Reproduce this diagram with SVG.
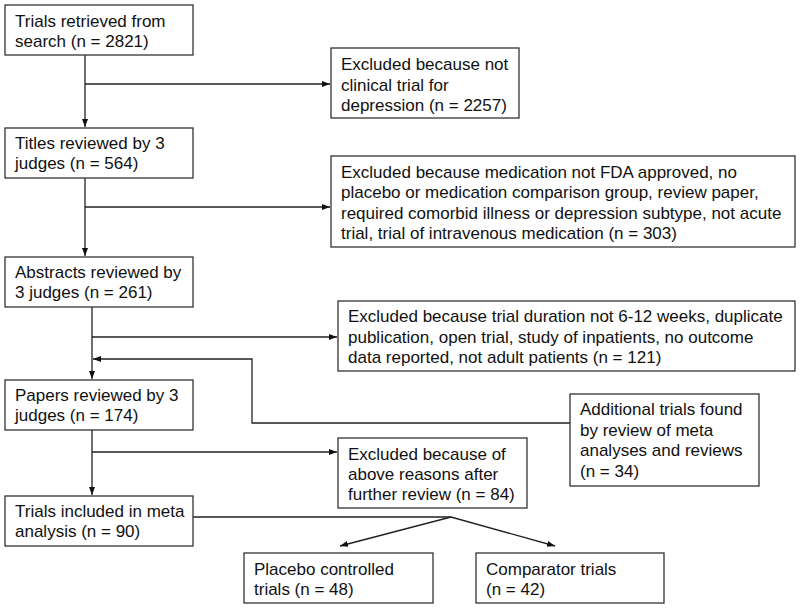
<svg xmlns="http://www.w3.org/2000/svg" width="800" height="609" viewBox="0 0 800 609">
<style>
.box{fill:#fff;stroke:#333;stroke-width:1.3}
.t{font-family:"Liberation Sans",Arial,sans-serif;font-size:17px;fill:#111}
.c{fill:none;stroke:#222;stroke-width:1.3}
</style>
<defs>
<marker id="ah" markerUnits="userSpaceOnUse" markerWidth="9" markerHeight="8" refX="8" refY="3.5" orient="auto">
<path d="M0,0.5 L8,3.5 L0,6.5 z" fill="#111"/>
</marker>
</defs>
<rect width="800" height="609" fill="#fff"/>
<g id="connectors">
<line class="c" x1="85" y1="55" x2="85" y2="127" marker-end="url(#ah)"/>
<line class="c" x1="85" y1="84" x2="330" y2="84" marker-end="url(#ah)"/>
<line class="c" x1="85" y1="178" x2="85" y2="256" marker-end="url(#ah)"/>
<line class="c" x1="85" y1="207" x2="330" y2="207" marker-end="url(#ah)"/>
<line class="c" x1="92" y1="307" x2="92" y2="379" marker-end="url(#ah)"/>
<line class="c" x1="92" y1="337" x2="337" y2="337" marker-end="url(#ah)"/>
<polyline class="c" points="570,423 252,423 252,359 93,359" marker-end="url(#ah)"/>
<line class="c" x1="92" y1="430" x2="92" y2="495" marker-end="url(#ah)"/>
<line class="c" x1="92" y1="452" x2="337" y2="452" marker-end="url(#ah)"/>
<line class="c" x1="193" y1="517" x2="451" y2="517"/>
<line class="c" x1="451" y1="517" x2="340" y2="546" marker-end="url(#ah)"/>
<line class="c" x1="451" y1="517" x2="555" y2="546" marker-end="url(#ah)"/>
</g>
<g id="n1"><rect class="box" x="5" y="5" width="188" height="50"/>
<text class="t" x="15" y="27">Trials retrieved from</text><text class="t" x="15" y="47">search (n = 2821)</text></g>
<g id="n2"><rect class="box" x="331" y="48" width="188" height="70"/>
<text class="t" x="341" y="70">Excluded because not</text><text class="t" x="341" y="90.5">clinical trial for</text><text class="t" x="341" y="111">depression (n = 2257)</text></g>
<g id="n3"><rect class="box" x="5" y="128" width="188" height="50"/>
<text class="t" x="15" y="149">Titles reviewed by 3</text><text class="t" x="15" y="169">judges (n = 564)</text></g>
<g id="n4"><rect class="box" x="331" y="156" width="464" height="91"/>
<text class="t" x="341" y="178">Excluded because medication not FDA approved, no</text>
<text class="t" x="341" y="198.3">placebo or medication comparison group, review paper,</text>
<text class="t" x="341" y="218.6">required comorbid illness or depression subtype, not acute</text>
<text class="t" x="341" y="239">trial, trial of intravenous medication (n = 303)</text></g>
<g id="n5"><rect class="box" x="5" y="257" width="188" height="50"/>
<text class="t" x="15" y="278">Abstracts reviewed by</text><text class="t" x="15" y="298">3 judges (n = 261)</text></g>
<g id="n6"><rect class="box" x="338" y="301" width="457" height="70"/>
<text class="t" x="348" y="322">Excluded because trial duration not 6-12 weeks, duplicate</text>
<text class="t" x="348" y="342.5">publication, open trial, study of inpatients, no outcome</text>
<text class="t" x="348" y="363">data reported, not adult patients (n = 121)</text></g>
<g id="n7"><rect class="box" x="5" y="380" width="188" height="50"/>
<text class="t" x="15" y="401">Papers reviewed by 3</text><text class="t" x="15" y="421">judges (n = 174)</text></g>
<g id="n8"><rect class="box" x="570" y="394" width="189" height="92"/>
<text class="t" x="580" y="415">Additional trials found</text><text class="t" x="580" y="435.5">by review of meta</text>
<text class="t" x="580" y="456">analyses and reviews</text><text class="t" x="580" y="476.5">(n = 34)</text></g>
<g id="n9"><rect class="box" x="338" y="438" width="189" height="70"/>
<text class="t" x="348" y="460">Excluded because of</text><text class="t" x="348" y="480">above reasons after</text><text class="t" x="348" y="500">further review (n = 84)</text></g>
<g id="n10"><rect class="box" x="5" y="496" width="188" height="50"/>
<text class="t" x="15" y="517">Trials included in meta</text><text class="t" x="15" y="537">analysis (n = 90)</text></g>
<g id="n11"><rect class="box" x="244" y="553" width="189" height="50"/>
<text class="t" x="254" y="575">Placebo controlled</text><text class="t" x="254" y="595">trials (n = 48)</text></g>
<g id="n12"><rect class="box" x="476" y="553" width="188" height="50"/>
<text class="t" x="486" y="575">Comparator trials</text><text class="t" x="486" y="595">(n = 42)</text></g>
</svg>
